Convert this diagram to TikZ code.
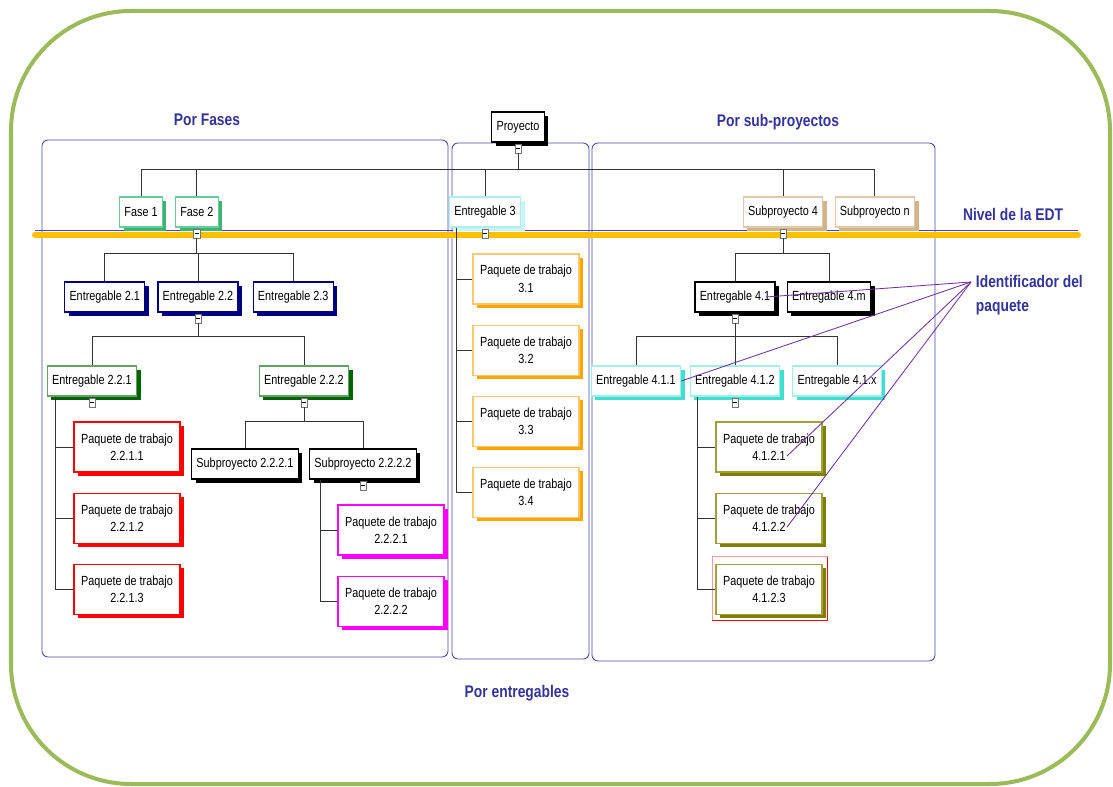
\documentclass[tikz,border=0pt]{standalone}
\usepackage{fontspec}
\setmainfont{Liberation Sans}[FakeStretch=0.82]
\usetikzlibrary{positioning,shadows}

\definecolor{edtgreen}{RGB}{155,187,89}
\definecolor{grpblue}{RGB}{70,70,170}
\definecolor{ttlblue}{RGB}{51,51,153}
\definecolor{barorange}{RGB}{255,192,0}
\definecolor{idpurple}{RGB}{112,48,160}
\definecolor{faseline}{RGB}{102,204,153}
\definecolor{faseshade}{RGB}{60,179,113}
\definecolor{navyblue}{RGB}{0,0,128}
\definecolor{dkgreen}{RGB}{0,100,0}
\definecolor{cyanline}{RGB}{175,238,238}
\definecolor{cyanshade}{RGB}{200,245,245}
\definecolor{orgline}{RGB}{255,200,112}
\definecolor{orgshade}{RGB}{255,165,0}
\definecolor{tanline}{RGB}{224,200,168}
\definecolor{tanshade}{RGB}{210,180,140}
\definecolor{turqline}{RGB}{160,240,232}
\definecolor{turqshade}{RGB}{64,224,208}
\definecolor{oliveline}{RGB}{160,160,64}
\definecolor{oliveshade}{RGB}{128,128,0}
\definecolor{pkmagenta}{RGB}{255,0,255}
\definecolor{pkred}{RGB}{255,0,0}

\newcommand\edtfont{\fontsize{9.4}{12.5}\selectfont}
\newcommand\edthead{\fontsize{12}{17.5}\selectfont\bfseries}

\tikzset{
  wbs/.style 2 args={draw=#1, fill=white, line width=0.8pt, inner xsep=0.12cm,
    minimum height=0.75cm, font=\edtfont,
    drop shadow={shadow xshift=0.1cm, shadow yshift=-0.1cm, fill=#2, opacity=1}},
  pkg/.style 2 args={wbs={#1}{#2}, minimum width=2.65cm, minimum height=1.25cm, align=center},
  fasebox/.style={wbs={faseline}{faseshade}},
  navybox/.style={wbs={navyblue}{navyblue}},
  greenbox/.style={wbs={dkgreen!60}{dkgreen}},
  blackbox/.style={wbs={black}{black}},
  cyanbox/.style={wbs={cyanline}{cyanshade}},
  tanbox/.style={wbs={tanline}{tanshade}},
  turqbox/.style={wbs={turqline}{turqshade}},
  redpkg/.style={pkg={pkred}{pkred}},
  magpkg/.style={pkg={pkmagenta}{pkmagenta}},
  orangepkg/.style={pkg={orgline}{orgshade}},
  olivepkg/.style={pkg={oliveline}{oliveshade}},
  toggle/.style={draw=black!55, fill=white, minimum width=0.16cm, minimum height=0.22cm,
    inner sep=0pt, outer sep=0pt,
    path picture={\draw[black, line width=0.7pt] ([xshift=0.03cm]path picture bounding box.west)
      -- ([xshift=-0.03cm]path picture bounding box.east);}},
  tree/.style={draw=black!80, line width=0.6pt},
  groupbox/.style={draw=grpblue, rounded corners=0.15cm, line width=0.6pt},
  heading/.style={text=ttlblue, font=\edthead},
  idline/.style={draw=idpurple, line width=0.6pt}
}

\begin{document}
\begin{tikzpicture}[x=0.025cm, y=-0.025cm]
  \useasboundingbox (0,0) rectangle (1113,787);
  % frame
  \draw[edtgreen, line width=0.1cm, rounded corners=3cm] (11,11) rectangle (1110,784);

  % groups
  \draw[groupbox] (42,140) rectangle (448,657);
  \draw[groupbox] (452,143) rectangle (589,659);
  \draw[groupbox] (592,143) rectangle (935,661);
  \node[heading] (tfases) at (207,120) {Por Fases};
  \node[heading] (tsub) at (778,122) {Por sub-proyectos};
  \node[heading] (tent) at (517,693) {Por entregables};
  \node[heading] (tnivel) at (1013,214) {Nivel de la EDT};
  \node[heading, anchor=north west, align=left] (ident) at (971,270) {Identificador del\\paquete};
  \draw[grpblue, line width=0.5pt] (35,230) -- (1078,230);

  % level 0 and 1
  \node[blackbox] (proy) at (518,127) {Proyecto};
  \node[fasebox] (fase1) at (141,212) {Fase 1};
  \node[fasebox, right=0.3cm of fase1] (fase2) {Fase 2};
  \node[cyanbox] (ent3) at (485,212) {Entregable 3};
  \node[tanbox] (sub4) at (783,212) {Subproyecto 4};
  \node[tanbox, right=0.28cm of sub4] (subn) {Subproyecto n};

  % por fases
  \node[navybox] (e22) at (198,297) {Entregable 2.2};
  \node[navybox, left=0.3cm of e22] (e21) {Entregable 2.1};
  \node[navybox, right=0.35cm of e22] (e23) {Entregable 2.3};
  \node[greenbox] (e221) at (92,381) {Entregable 2.2.1};
  \node[greenbox] (e222) at (304,381) {Entregable 2.2.2};
  \node[redpkg] (p2211) at (127,447) {Paquete de trabajo\\2.2.1.1};
  \node[redpkg, below=0.5cm of p2211] (p2212) {Paquete de trabajo\\2.2.1.2};
  \node[redpkg, below=0.5cm of p2212] (p2213) {Paquete de trabajo\\2.2.1.3};
  \node[blackbox] (s2221) at (245,464) {Subproyecto 2.2.2.1};
  \node[blackbox] (s2222) at (363,464) {Subproyecto 2.2.2.2};
  \node[magpkg] (p22221) at (391,530) {Paquete de trabajo\\2.2.2.1};
  \node[magpkg, below=0.5cm of p22221] (p22222) {Paquete de trabajo\\2.2.2.2};

  % por entregables
  \node[orangepkg] (p31) at (526,279) {Paquete de trabajo\\3.1};
  \node[orangepkg, below=0.5cm of p31] (p32) {Paquete de trabajo\\3.2};
  \node[orangepkg, below=0.5cm of p32] (p33) {Paquete de trabajo\\3.3};
  \node[orangepkg, below=0.5cm of p33] (p34) {Paquete de trabajo\\3.4};

  % por sub-proyectos
  \node[blackbox] (e41) at (735,297) {Entregable 4.1};
  \node[blackbox, right=0.28cm of e41] (e4m) {Entregable 4.m};
  \node[turqbox] (e411) at (636,381) {Entregable 4.1.1};
  \node[turqbox] (e412) at (735,381) {Entregable 4.1.2};
  \node[turqbox] (e41x) at (837,381) {Entregable 4.1.x};
  \node[olivepkg] (p4121) at (769,447) {Paquete de trabajo\\4.1.2.1};
  \node[olivepkg, below=0.5cm of p4121] (p4122) {Paquete de trabajo\\4.1.2.2};
  \node[olivepkg, below=0.5cm of p4122] (p4123) {Paquete de trabajo\\4.1.2.3};
  \draw[pkred!40, line width=0.6pt] ([shift={(5,6)}]p4123.south east) |- ([shift={(-3,-7)}]p4123.north west) |- cycle;
  \draw[pkred, line width=0.6pt] ([shift={(-3,6)}]p4123.south west) -| ([shift={(5,-7)}]p4123.north east);

  % nivel de la EDT
  \draw[barorange, line width=0.15cm, line cap=round] (35,235) -- (1078,235);

  % toggles
  \node[toggle, below=0.05cm of proy] (t0) {};
  \node[toggle, below=0.05cm of fase2] (t2) {};
  \node[toggle, below=0.05cm of ent3] (t3) {};
  \node[toggle, below=0.05cm of sub4] (t4) {};
  \node[toggle, below=0.05cm of e22] (t22) {};
  \node[toggle, below=0.05cm of e221] (t221) {};
  \node[toggle, below=0.05cm of e222] (t222) {};
  \node[toggle, below=0.05cm of s2222] (t2222) {};
  \node[toggle, below=0.05cm of e41] (t41) {};
  \node[toggle, below=0.05cm of e412] (t412) {};

  % connectors
  \draw[tree] (t0) -- (t0 |- 0,169) coordinate (bus0);
  \foreach \n in {fase1,fase2,ent3,sub4,subn}
    \draw[tree] (bus0) -| (\n);
  \draw[tree] (t2) -- (t2 |- 0,253) coordinate (bus2);
  \foreach \n in {e21,e22,e23}
    \draw[tree] (bus2) -| (\n);
  \draw[tree] (t22) -- (t22 |- 0,336) coordinate (bus22);
  \foreach \n in {e221,e222}
    \draw[tree] (bus22) -| (\n);
  \foreach \n in {p2211,p2212,p2213}
    \draw[tree] ([xshift=0.225cm]e221.south west) |- (\n);
  \draw[tree] (t222) -- (t222 |- 0,421) coordinate (bus222);
  \foreach \n in {s2221,s2222}
    \draw[tree] (bus222) -| (\n);
  \foreach \n in {p22221,p22222}
    \draw[tree] ([xshift=0.275cm]s2222.south west) |- (\n);
  \foreach \n in {p31,p32,p33,p34}
    \draw[tree] ([xshift=0.2cm]ent3.south west) |- (\n);
  \draw[tree] (t4) -- (t4 |- 0,253) coordinate (bus4);
  \foreach \n in {e41,e4m}
    \draw[tree] (bus4) -| (\n);
  \draw[tree] (t41) -- (t41 |- 0,336) coordinate (bus41);
  \foreach \n in {e411,e412,e41x}
    \draw[tree] (bus41) -| (\n);
  \foreach \n in {p4121,p4122,p4123}
    \draw[tree] ([xshift=0.2cm]e412.south west) |- (\n);

  % identificador del paquete
  \coordinate (idp) at ([yshift=-0.3cm]ident.north west);
  \draw[idline] (idp) -- ([xshift=-0.25cm]e41.east);
  \draw[idline] (idp) -- (e411.east);
  \draw[idline] (idp) -- ([shift={(18,9)}]p4121.center);
  \draw[idline] (idp) -- ([shift={(18,9)}]p4122.center);
\end{tikzpicture}
\end{document}
